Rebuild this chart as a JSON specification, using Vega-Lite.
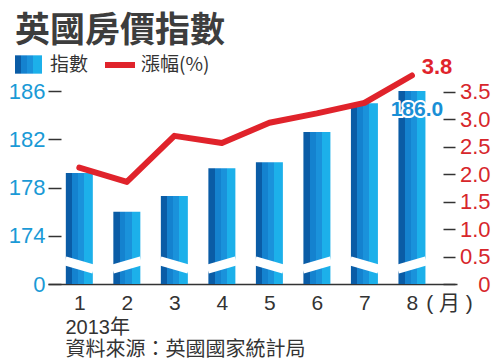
{
  "$schema": "https://vega.github.io/schema/vega-lite/v6.json",
  "width": 409,
  "height": 217,
  "autosize": {"type": "none"},
  "padding": {"left": 48, "top": 67, "right": 43, "bottom": 77},
  "background": "white",
  "title": {
    "text": "英國房價指數",
    "anchor": "start",
    "frame": "group",
    "dx": -33,
    "offset": -2,
    "font": "Noto Sans CJK TC",
    "fontSize": 35,
    "fontWeight": "bold",
    "color": "#3d3d3d"
  },
  "config": {
    "view": {"stroke": null},
    "axis": {"grid": false}
  },
  "datasets": {
    "main": [
      {"month": 1, "index": 179.2, "change": 2.12},
      {"month": 2, "index": 176.0, "change": 1.86},
      {"month": 3, "index": 177.3, "change": 2.70},
      {"month": 4, "index": 179.6, "change": 2.57},
      {"month": 5, "index": 180.1, "change": 2.94},
      {"month": 6, "index": 182.6, "change": 3.11},
      {"month": 7, "index": 185.0, "change": 3.30},
      {"month": 8, "index": 186.0, "change": 3.8}
    ],
    "breaks": [
      {"from": 0.70, "to": 1.30, "hi": 171.92, "lo": 171.24},
      {"from": 1.70, "to": 2.30, "hi": 171.24, "lo": 171.92},
      {"from": 2.70, "to": 3.30, "hi": 171.92, "lo": 171.24},
      {"from": 3.70, "to": 4.30, "hi": 171.24, "lo": 171.92},
      {"from": 4.70, "to": 5.30, "hi": 171.92, "lo": 171.24},
      {"from": 5.70, "to": 6.30, "hi": 171.24, "lo": 171.92},
      {"from": 6.70, "to": 7.30, "hi": 171.92, "lo": 171.24},
      {"from": 7.70, "to": 8.30, "hi": 171.24, "lo": 171.92}
    ]
  },
  "layer": [
    {
      "encoding": {
        "x": {
          "field": "month",
          "type": "quantitative",
          "scale": {"domain": [0.446, 8.843], "nice": false, "zero": false},
          "axis": {
            "values": [1, 2, 3, 4, 5, 6, 7, 8, 8.78],
            "labelExpr": "datum.value > 8.5 ? '( 月 )' : datum.label",
            "ticks": false,
            "domainColor": "#333333",
            "domainWidth": 1.5,
            "labelFont": "Liberation Sans, Noto Sans CJK TC",
            "labelFontSize": 21,
            "labelColor": "#333333",
            "labelPadding": 8,
            "labelFlush": false,
            "labelOverlap": false,
            "title": ["2013年", "資料來源：英國國家統計局"],
            "titleFont": "Liberation Sans, Noto Sans CJK TC",
            "titleFontSize": 20,
            "titleFontWeight": "normal",
            "titleColor": "#333333",
            "titleAlign": "left",
            "titleAnchor": "start",
            "titleBaseline": "alphabetic",
            "titleX": 17,
            "titleY": 49,
            "titleLineHeight": 22
          }
        },
        "y": {
          "field": "index",
          "type": "quantitative",
          "scale": {"domain": [170, 188], "nice": false, "zero": false},
          "axis": {
            "orient": "left",
            "offset": -13,
            "values": [170, 174, 178, 182, 186],
            "labelExpr": "datum.value == 170 ? '0' : datum.label",
            "domain": false,
            "tickSize": 13,
            "tickColor": "#333333",
            "tickWidth": 1.5,
            "labelPadding": 3,
            "labelOverlap": false,
            "labelFont": "Liberation Sans",
            "labelFontSize": 22,
            "labelColor": "#1a9ad6",
            "title": null
          }
        }
      },
      "layer": [
        {
          "data": {"name": "main"},
          "mark": {
            "type": "bar",
            "size": 27,
            "strokeWidth": 0,
            "fill": {
              "gradient": "linear",
              "x1": 0, "y1": 0, "x2": 1, "y2": 0,
              "stops": [
                {"offset": 0, "color": "#0a5ca6"},
                {"offset": 0.24, "color": "#0a5ca6"},
                {"offset": 0.24, "color": "#1482cf"},
                {"offset": 0.45, "color": "#1482cf"},
                {"offset": 0.45, "color": "#1a92db"},
                {"offset": 0.68, "color": "#1a92db"},
                {"offset": 0.68, "color": "#1cb0ea"},
                {"offset": 1, "color": "#1cb0ea"}
              ]
            }
          },
          "encoding": {
            "y2": {"datum": 170},
            "strokeDash": {
              "datum": "指數",
              "type": "nominal",
              "scale": {"domain": ["指數"], "range": [[1, 0]]},
              "legend": {
                "orient": "none",
                "legendX": -33,
                "legendY": -16,
                "title": null,
                "padding": 0,
                "symbolType": "M-1,-0.68H1V0.68H-1Z",
                "symbolSize": 729,
                "symbolStrokeWidth": 0,
                "labelFont": "Noto Sans CJK TC",
                "labelFontSize": 19,
                "labelColor": "#333333",
                "labelOffset": 8,
                "encode": {
                  "symbols": {
                    "update": {
                      "fill": {"value": {"gradient": "linear", "x1": 0, "y1": 0, "x2": 1, "y2": 0, "stops": [{"offset": 0, "color": "#0a5ca6"}, {"offset": 0.3, "color": "#0a5ca6"}, {"offset": 0.3, "color": "#1a92db"}, {"offset": 0.68, "color": "#1a92db"}, {"offset": 0.68, "color": "#1cb0ea"}, {"offset": 1, "color": "#1cb0ea"}]}},
                      "strokeWidth": {"value": 0},
                      "opacity": {"value": 1},
                      "fillOpacity": {"value": 1}
                    }
                  }
                }
              }
            }
          }
        },
        {
          "data": {"name": "breaks"},
          "mark": {"type": "rule", "color": "white", "strokeWidth": 9, "strokeCap": "butt"},
          "encoding": {
            "x": {"field": "from", "type": "quantitative"},
            "x2": {"field": "to"},
            "y": {"field": "hi", "type": "quantitative"},
            "y2": {"field": "lo"}
          }
        },
        {
          "data": {"name": "main"},
          "transform": [{"filter": "datum.month == 8"}],
          "mark": {
            "type": "text",
            "font": "Liberation Sans",
            "fontSize": 21,
            "fontWeight": "bold",
            "stroke": "white",
            "strokeWidth": 4,
            "strokeJoin": "round",
            "fill": "white",
            "dx": 5,
            "dy": 19,
            "baseline": "middle",
            "align": "center"
          },
          "encoding": {
            "text": {"field": "index", "type": "quantitative", "format": ".1f"}
          }
        },
        {
          "data": {"name": "main"},
          "transform": [{"filter": "datum.month == 8"}],
          "mark": {
            "type": "text",
            "font": "Liberation Sans",
            "fontSize": 21,
            "fontWeight": "bold",
            "fill": "#1a8fd6",
            "dx": 5,
            "dy": 19,
            "baseline": "middle",
            "align": "center"
          },
          "encoding": {
            "text": {"field": "index", "type": "quantitative", "format": ".1f"}
          }
        }
      ]
    },
    {
      "encoding": {
        "x": {"field": "month", "type": "quantitative"},
        "y": {
          "field": "change",
          "type": "quantitative",
          "scale": {"domain": [0, 3.955], "nice": false, "zero": false},
          "axis": {
            "orient": "right",
            "offset": -14,
            "values": [0, 0.5, 1, 1.5, 2, 2.5, 3, 3.5],
            "labelExpr": "datum.value == 0 ? '0' : format(datum.value, '.1f')",
            "domain": false,
            "tickSize": 12,
            "tickColor": "#333333",
            "tickWidth": 1.5,
            "labelAlign": "right",
            "labelPadding": 35,
            "labelOverlap": false,
            "labelFont": "Liberation Sans",
            "labelFontSize": 22,
            "labelColor": "#d7262b",
            "title": null
          }
        }
      },
      "layer": [
        {
          "data": {"name": "main"},
          "mark": {"type": "line", "strokeWidth": 6, "strokeCap": "round", "strokeJoin": "round"},
          "encoding": {
            "stroke": {
              "datum": "漲幅(%)",
              "type": "nominal",
              "scale": {"domain": ["漲幅(%)"], "range": ["#e0232b"]},
              "legend": {
                "orient": "none",
                "legendX": 54,
                "legendY": -20,
                "title": null,
                "padding": 0,
                "symbolType": "stroke",
                "symbolSize": 900,
                "symbolStrokeWidth": 6,
                "labelFont": "Noto Sans CJK TC",
                "labelFontSize": 19,
                "labelColor": "#333333",
                "labelOffset": 3
              }
            }
          }
        },
        {
          "data": {"name": "main"},
          "transform": [{"filter": "datum.month == 8"}],
          "mark": {
            "type": "text",
            "font": "Liberation Sans",
            "fontSize": 22,
            "fontWeight": "bold",
            "fill": "#e0232b",
            "dx": 25,
            "dy": -9,
            "baseline": "middle",
            "align": "center"
          },
          "encoding": {
            "text": {"field": "change", "type": "quantitative", "format": ".1f"}
          }
        }
      ]
    }
  ],
  "resolve": {"scale": {"y": "independent"}}
}
